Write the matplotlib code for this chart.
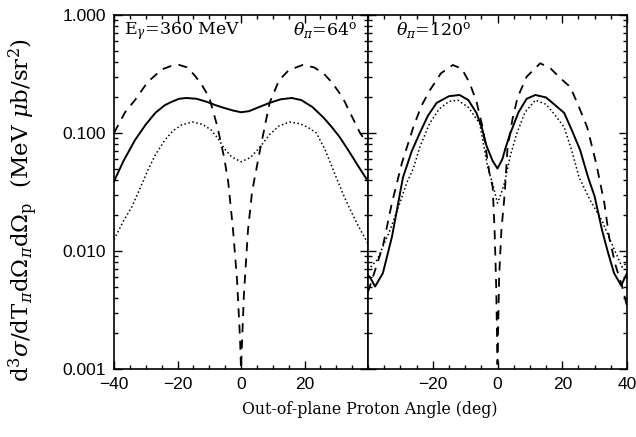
import matplotlib
matplotlib.use("Agg")
import matplotlib.pyplot as plt
from matplotlib.ticker import MultipleLocator, FixedLocator, LogLocator, FormatStrFormatter, NullFormatter

plt.rcParams['mathtext.fontset'] = 'dejavuserif'
plt.rcParams['font.family'] = ['Liberation Sans', 'DejaVu Sans']

# --- theta_pi = 64 deg panel ---
L_dash_ang = [-40, -36.5, -33.4, -29.4, -25, -22, -19.4, -17, -14.7, -12.5, -10, -7.5, -5.3, -4, -2.5,
              -1.25, -0.3, 0, 0.9, 2.2, 3.5, 6, 9, 12, 15, 19.4, 23, 26, 28.8, 32, 35, 37.5, 40]
L_dash_val = [0.10, 0.15, 0.19, 0.27, 0.345, 0.37, 0.377, 0.36, 0.31, 0.26, 0.20, 0.115, 0.062, 0.038, 0.015,
              0.0057, 0.0018, 0.001, 0.0042, 0.015, 0.032, 0.072, 0.18, 0.28, 0.34, 0.377, 0.36, 0.32, 0.265,
              0.20, 0.137, 0.10, 0.08]
L_solid_ang = [-40, -37, -33.4, -30, -27, -24, -22, -19.5, -17.2, -14, -10.6, -8, -5.3, -2.5, 0, 2.5, 5, 9,
               12.5, 16, 19, 22.5, 26, 28.5, 31, 34, 37, 40]
L_solid_val = [0.039, 0.058, 0.087, 0.118, 0.148, 0.172, 0.183, 0.195, 0.198, 0.195, 0.183, 0.172, 0.163,
               0.155, 0.15, 0.153, 0.163, 0.18, 0.193, 0.198, 0.19, 0.166, 0.135, 0.113, 0.093, 0.07, 0.052, 0.039]
L_dot_ang = [-40, -37, -34.4, -32, -29.4, -27, -24, -21.5, -18.75, -15.3, -12, -9.4, -7, -5.3, -3, 0, 3, 6,
             9, 12, 15.3, 18.5, 21, 23.75, 26.5, 30, 32, 34, 36.6, 40]
L_dot_val = [0.0125, 0.018, 0.0236, 0.033, 0.048, 0.065, 0.087, 0.104, 0.117, 0.124, 0.118, 0.106, 0.088,
             0.074, 0.063, 0.057, 0.062, 0.076, 0.097, 0.115, 0.124, 0.12, 0.112, 0.10, 0.072, 0.042, 0.031,
             0.0236, 0.017, 0.0115]

# --- theta_pi = 120 deg panel ---
R_dash_ang = [-40, -38.5, -35.4, -32.6, -29.5, -26, -23.5, -20.9, -17.5, -13.8, -11, -8.6, -6.5, -4.6, -2.5,
              -1.5, -0.9, -0.4, 0, 0.5, 1.2, 2.2, 3.1, 4.6, 6.2, 9, 13.2, 16.5, 19.5, 22.5, 25, 27.7, 30.5,
              33, 34.5, 36.5, 38.5, 40]
R_dash_val = [0.0045, 0.006, 0.011, 0.0256, 0.056, 0.112, 0.17, 0.23, 0.32, 0.377, 0.35, 0.265, 0.185, 0.112,
              0.046, 0.035, 0.015, 0.005, 0.0011, 0.006, 0.015, 0.03, 0.075, 0.13, 0.2, 0.3, 0.39, 0.35, 0.29,
              0.245, 0.17, 0.112, 0.055, 0.0255, 0.013, 0.0075, 0.005, 0.0034]
R_solid_ang = [-40, -39.4, -37.8, -35.4, -32.6, -29.2, -26.5, -24, -21.5, -18.8, -15, -11.7, -9, -6.5, -4.8,
               -3.4, -1.5, 0, 1.5, 2.5, 4, 6.5, 9, 11.7, 15, 17.5, 20.6, 23, 25.5, 28, 30, 32.3, 34, 36, 38.2, 40]
R_solid_val = [0.0062, 0.006, 0.005, 0.0065, 0.0132, 0.042, 0.07, 0.1, 0.14, 0.18, 0.205, 0.21, 0.19, 0.148,
               0.11, 0.078, 0.058, 0.05, 0.06, 0.075, 0.1, 0.15, 0.195, 0.21, 0.2, 0.175, 0.148, 0.105, 0.072,
               0.042, 0.029, 0.015, 0.01, 0.0065, 0.0051, 0.0065]
R_dot_ang = [-40, -37.2, -33.2, -30.5, -28, -26, -24, -21, -18, -15, -12.3, -9, -5.5, -3, -1.5, 0, 1, 2.2, 4,
             6, 8.5, 11.7, 15, 17.5, 20.6, 23, 25.2, 28.6, 32.3, 35, 38.5, 40]
R_dot_val = [0.0069, 0.0084, 0.015, 0.024, 0.038, 0.05, 0.076, 0.12, 0.16, 0.185, 0.19, 0.165, 0.12, 0.051,
             0.037, 0.0255, 0.03, 0.038, 0.065, 0.1, 0.15, 0.19, 0.175, 0.145, 0.112, 0.07, 0.042, 0.027, 0.018,
             0.012, 0.0073, 0.008]

fig = plt.figure(figsize=(6.36, 4.37), dpi=100)
axL = fig.add_axes([114/636, 68/437, 254/636, 354/437])
axR = fig.add_axes([368/636, 68/437, 259/636, 354/437], sharey=axL)

def style(ax, xt):
    ax.set_yscale('log')
    ax.set_ylim(0.001, 1.0)
    ax.set_xlim(-40, 40)
    ax.xaxis.set_major_locator(FixedLocator(xt))
    ax.xaxis.set_minor_locator(MultipleLocator(5))
    ax.yaxis.set_major_locator(LogLocator(base=10, numticks=10))
    ax.yaxis.set_minor_locator(LogLocator(base=10, subs=range(2, 10), numticks=20))
    ax.tick_params(which='both', direction='in', top=True, right=True, labelsize=12.5, width=1)
    ax.tick_params(which='major', length=6, pad=6)
    ax.tick_params(which='minor', length=3)
    for s in ax.spines.values():
        s.set_linewidth(1.2)

style(axL, [-40, -20, 0, 20])
style(axR, [-20, 0, 20, 40])
axL.yaxis.set_major_formatter(FormatStrFormatter('%.3f'))
axL.yaxis.set_minor_formatter(NullFormatter())
axR.tick_params(labelleft=False)

axL.plot(L_dash_ang, L_dash_val, 'k--', lw=1.3, dashes=(5, 4))
axL.plot(L_solid_ang, L_solid_val, 'k-', lw=1.4)
axL.plot(L_dot_ang, L_dot_val, 'k:', lw=1.1)
axR.plot(R_dash_ang, R_dash_val, 'k--', lw=1.3, dashes=(5, 4))
axR.plot(R_solid_ang, R_solid_val, 'k-', lw=1.4)
axR.plot(R_dot_ang, R_dot_val, 'k:', lw=1.1)

axL.text(0.04, 0.985, r'E$_\gamma$=360 MeV', transform=axL.transAxes, family='DejaVu Serif',
         fontsize=12.5, va='top', ha='left')
axL.text(0.96, 0.985, r'$\theta_\pi$=64$^\mathrm{o}$', transform=axL.transAxes, family='DejaVu Serif',
         fontsize=12.5, va='top', ha='right')
axR.text(0.11, 0.985, r'$\theta_\pi$=120$^\mathrm{o}$', transform=axR.transAxes, family='DejaVu Serif',
         fontsize=12.5, va='top', ha='left')

fig.text(0.036, 1 - 210/437, r'd$^3\sigma$/dT$_\pi$d$\Omega_\pi$d$\Omega_\mathrm{p}$  (MeV $\mu$b/sr$^2$)',
         rotation=90, va='center', ha='center', family='DejaVu Serif', fontsize=16.5)
fig.text(370/636, 1 - 409/437, 'Out-of-plane Proton Angle (deg)', va='center', ha='center',
         family='DejaVu Serif', fontsize=11.3)

fig.savefig('out.png', dpi=100)
